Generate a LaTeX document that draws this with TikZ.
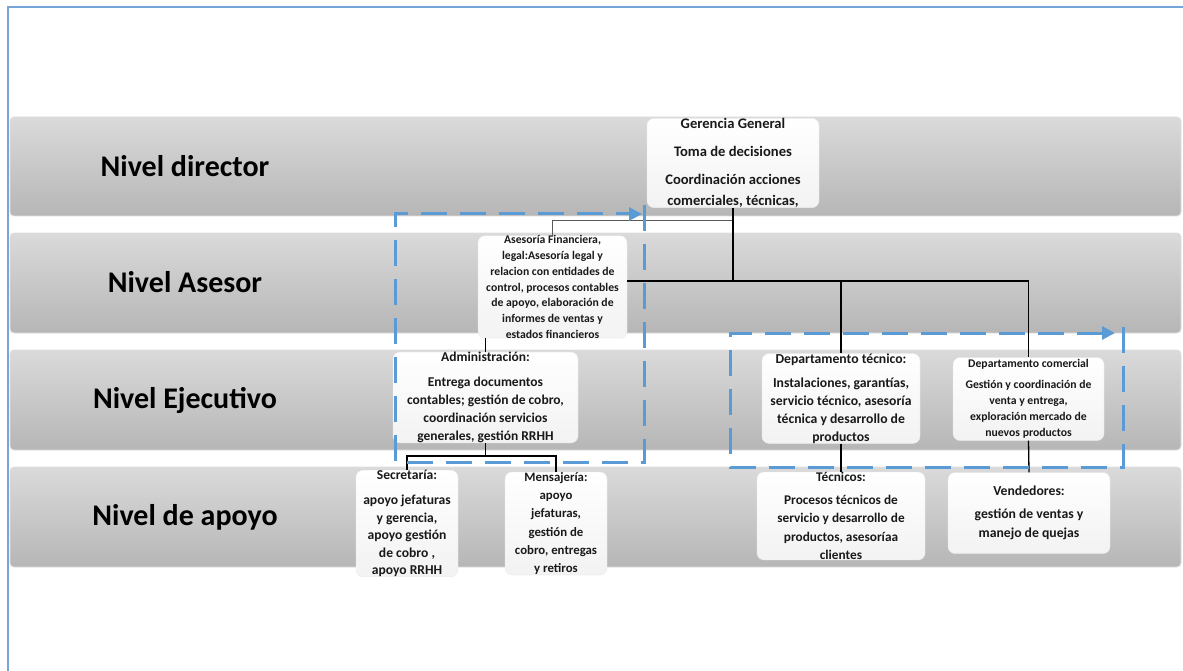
\documentclass[tikz,border=0pt]{standalone}
\usepackage{fontspec}
\setmainfont{Carlito}
\usetikzlibrary{arrows.meta}
\definecolor{bandtop}{RGB}{218,218,218}
\definecolor{bandbot}{RGB}{182,182,182}
\definecolor{frameblue}{RGB}{120,165,215}
\definecolor{dashblue}{RGB}{91,155,213}
\tikzset{
  band/.style={top color=bandtop, bottom color=bandbot, draw=gray!25, line width=0.8pt, rounded corners=4pt},
  levellabel/.style={font=\fontsize{30}{34}\selectfont\bfseries, text=black},
  wbox/.style={rounded corners=7pt, top color=white, bottom color=gray!10, draw=gray!15,
    inner sep=0pt, align=center, text=black!90},
  link/.style={draw=black, line width=1.3pt},
  thinlink/.style={draw=gray!70!black, line width=0.9pt},
  dashframe/.style={draw=dashblue, line width=3pt, dash pattern=on 26pt off 13pt,
    -{Triangle[length=13pt,width=13pt]}}
}
\begin{document}
\begin{tikzpicture}[x=1pt,y=-1pt]
\useasboundingbox (0,0) rectangle (1183,671);
\fill[white] (0,0) rectangle (1183,671);
% page frame
\draw[frameblue, line width=1.3pt] (8,671) -- (8,7) -- (1183,7);

% level bands
\shade[band] (10,117) rectangle (1181,216);
\shade[band] (10,233) rectangle (1181,333);
\shade[band] (10,350) rectangle (1181,450);
\shade[band] (10,467) rectangle (1181,567);

\node[levellabel] (lab1) at (185,166) {Nivel director};
\node[levellabel] (lab2) at (185,282) {Nivel Asesor};
\node[levellabel] (lab3) at (185,400) {Nivel Ejecutivo};
\node[levellabel] (lab4) at (185,517) {Nivel de apoyo};

% units
\node[wbox, minimum width=172pt, minimum height=85pt, font=\fontsize{14.6}{17}\selectfont\bfseries] (ger) at (733,163)
  {Gerencia General\\[11pt]Toma de decisiones\\[11pt]Coordinación acciones\\[4pt]comerciales, técnicas,};
\node[wbox, minimum width=149pt, minimum height=101pt, font=\fontsize{11.7}{15.7}\selectfont\bfseries] (ase) at (552.5,287)
  {Asesoría Financiera,\\legal:Asesoría legal y\\relacion con entidades de\\control, procesos contables\\de apoyo, elaboración de\\informes de ventas y\\estados financieros};
\node[wbox, minimum width=185pt, minimum height=85pt, font=\fontsize{13.5}{18}\selectfont\bfseries] (adm) at (485.5,397.5)
  {Administración:\\[7pt]Entrega documentos\\contables; gestión de cobro,\\coordinación servicios\\generales, gestión RRHH};
\node[wbox, minimum width=102pt, minimum height=103pt, font=\fontsize{13.6}{17.5}\selectfont\bfseries] (sec) at (407,523.5)
  {Secretaría:\\[7.5pt]apoyo jefaturas\\y gerencia,\\apoyo gestión\\de cobro ,\\apoyo RRHH};
\node[wbox, minimum width=102pt, minimum height=103pt, font=\fontsize{12.8}{18.3}\selectfont\bfseries] (men) at (556,523.5)
  {Mensajería:\\apoyo\\jefaturas,\\gestión de\\cobro, entregas\\y retiros};
\node[wbox, minimum width=158pt, minimum height=83pt, font=\fontsize{13.7}{18}\selectfont\bfseries] (dtec) at (841,398.5)
  {Departamento técnico:\\[6pt]Instalaciones, garantías,\\servicio técnico, asesoría\\técnica y desarrollo de\\productos};
\node[wbox, minimum width=151pt, minimum height=83pt, font=\fontsize{11.7}{16}\selectfont\bfseries] (dcom) at (1028.5,399)
  {Departamento comercial\\[5pt]Gestión y coordinación de\\venta y entrega,\\exploración mercado de\\nuevos productos};
\node[wbox, minimum width=168pt, minimum height=85pt, font=\fontsize{13.3}{18.5}\selectfont\bfseries] (tec) at (841,516)
  {Técnicos:\\[4.5pt]Procesos técnicos de\\servicio y desarrollo de\\productos, asesoríaa\\clientes};
\node[wbox, minimum width=162pt, minimum height=81pt, font=\fontsize{13.7}{19}\selectfont\bfseries] (ven) at (1029,513)
  {Vendedores:\\[4pt]gestión de ventas y\\manejo de quejas};

% reporting lines
\coordinate (busT) at (733,220);
\coordinate (busR) at (1028.5,281);
\coordinate (busL) at (485.5,456);
\draw[thinlink] (busT) -| (ase.north);
\draw[link] (ger.south) |- (busR) -- (dcom.north);
\draw[link] (ase.east |- busR) -- (ger.south |- busR);
\draw[link] (dtec.north |- busR) -- (dtec.north);
\draw[link] (adm.north |- ase.south) -- (adm.north);
\draw[link] (adm.south) -- (busL) -| (sec.north);
\draw[link] (busL) -| (men.north);
\draw[link] (dtec.south) -- (tec.north);
\draw[link] (dcom.south) -- (ven.north);

% dashed groupings
\draw[dashframe] (644,205) -- (644,462) -- (395,462) -- (395,214) -- (642,214);
\draw[dashframe] (1123,327) -- (1123,467) -- (730,467) -- (730,333) -- (1115,333);
\end{tikzpicture}
\end{document}
